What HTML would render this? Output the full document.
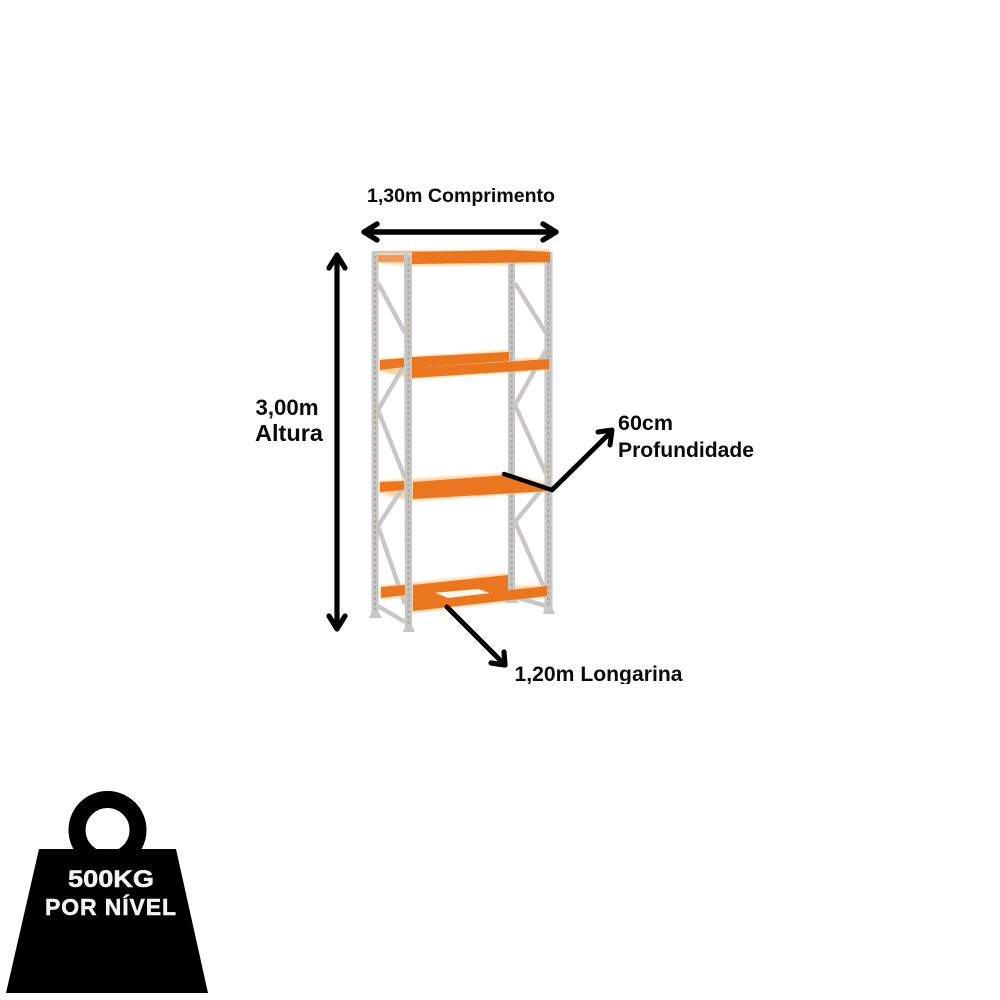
<!DOCTYPE html>
<html><head><meta charset="utf-8"><style>
html,body{margin:0;padding:0;background:#fff}
svg{display:block}
text{font-family:"Liberation Sans",sans-serif;font-weight:bold;fill:#0a0a0a}
</style></head><body>
<svg width="1000" height="1000" viewBox="0 0 1000 1000" xmlns="http://www.w3.org/2000/svg">
<defs><filter id="g" x="-10%" y="-50%" width="120%" height="200%"><feGaussianBlur stdDeviation="1.2"/></filter></defs>
<rect width="1000" height="1000" fill="#fff"/>

<!-- glow behind beams -->
<g fill="#ffd3a3" filter="url(#g)">
<polygon points="378,251 550,249 550,264 412,266 378,263"/>
<polygon points="379,359 509,350 509,359 550,357 550,370 412,379 379,371"/>
<polygon points="379,481 507,473 550,484 550,492 412,501 379,493"/>
<polygon points="380,586 508,573 508,586 548,585 548,597 412,613 405,597 380,599"/>
</g>

<!-- braces -->
<g stroke="#c9c7c4" stroke-width="4.4" fill="none">
<path d="M378,283L405,333M405,364L378,410L405,478M405,484L378,526L405,604M378,606L405,622"/>
<path d="M515,283L546,333M546,350L515,405L546,474M546,484L515,522L546,592M515,597L546,606"/>
<path d="M372,252H515" stroke-width="2"/>
</g>

<!-- back uprights + front right -->
<g fill="#c8c6c3">
<polygon points="371.5,252 378.5,252 378.5,612 382,618 369,618 371.5,612"/>
<polygon points="508,252 515,252 515,598 519,603 505,603 508,598"/>
<polygon points="544.5,252 552.5,252 552.5,608 555,614 543,614 544.5,608"/>
</g>
<path d="M375,256V610M511.5,264V596M548.5,256V606" stroke="#aaa8a5" stroke-width="2" stroke-dasharray="3 2.5"/>

<!-- beams -->
<g fill="#ea7620">
<polygon points="378,255 405,255 405,262 378,262" fill="#ef9a5c"/>
<polygon points="412,252 510,250 550,252 550,262 412,264"/>
<polygon points="380,360 404,358 404,367 380,370"/>
<polygon points="412,357 509,352 509,361 412,368"/>
<polygon points="412,368 549,359 549,369 412,378"/>
<polygon points="380,482 404,481 404,490 380,492"/>
<polygon points="413,482 507,475 549,487 549,491 413,499"/>
<polygon points="381,587 405,585 405,595 381,598"/>
<polygon points="413,585 508,575 508,592 413,604"/>
<polygon points="413,601 547,586 547,596 413,611"/>
</g>
<polygon points="435,592.7 478,589 490,593 448,598" fill="#fff6ea"/>

<!-- front left upright -->
<polygon points="404,252 412,256 412,626 415,632 403,632 405,626" fill="#c8c6c3"/>
<path d="M408.5,258V624" stroke="#aaa8a5" stroke-width="2" stroke-dasharray="3 2.5"/>

<!-- arrows -->
<g stroke="#000" fill="none" stroke-linecap="round" stroke-linejoin="round">
<path d="M365,232H555" stroke-width="5.4"/>
<path d="M377,224L364,232L377,240M543,224L556,232L543,240" stroke-width="5.4"/>
<path d="M337,256V627" stroke-width="5.2"/>
<path d="M329,268L337,255L345,268M329,616L337,629L345,616" stroke-width="5.2"/>
<path d="M504,474L552,490" stroke-width="4.4"/>
<path d="M552,490L611,432" stroke-width="4.8"/>
<path d="M598,432L612,430L610,445" stroke-width="5"/>
<path d="M447,607L505,665" stroke-width="5"/>
<path d="M491,663L505,665L504,652" stroke-width="5.2"/>
</g>

<!-- labels -->
<text x="367" y="202" font-size="19.6" textLength="188" lengthAdjust="spacingAndGlyphs">1,30m Comprimento</text>
<text x="255.5" y="415" font-size="22.2" textLength="63" lengthAdjust="spacingAndGlyphs">3,00m</text>
<text x="255" y="441" font-size="23" textLength="68" lengthAdjust="spacingAndGlyphs">Altura</text>
<text x="618" y="430" font-size="21.5" textLength="55" lengthAdjust="spacingAndGlyphs">60cm</text>
<text x="618" y="457" font-size="21" textLength="136" lengthAdjust="spacingAndGlyphs">Profundidade</text>
<text x="514.5" y="681" font-size="21" textLength="168" lengthAdjust="spacingAndGlyphs">1,20m Longarina</text>
<rect x="505" y="684" width="190" height="10" fill="#fff"/>

<!-- weight -->
<circle cx="107.5" cy="830" r="30.5" fill="none" stroke="#000" stroke-width="17"/>
<polygon points="39,849 176,849 208,993 6,993" fill="#000"/>
<text x="68" y="887" font-size="24" textLength="86" lengthAdjust="spacingAndGlyphs" style="fill:#f4f4f4;stroke:#f4f4f4;stroke-width:.5">500KG</text>
<text x="45" y="915" font-size="23" textLength="131" lengthAdjust="spacing" style="fill:#f4f4f4;stroke:#f4f4f4;stroke-width:.5">POR NÍVEL</text>
</svg>
</body></html>
